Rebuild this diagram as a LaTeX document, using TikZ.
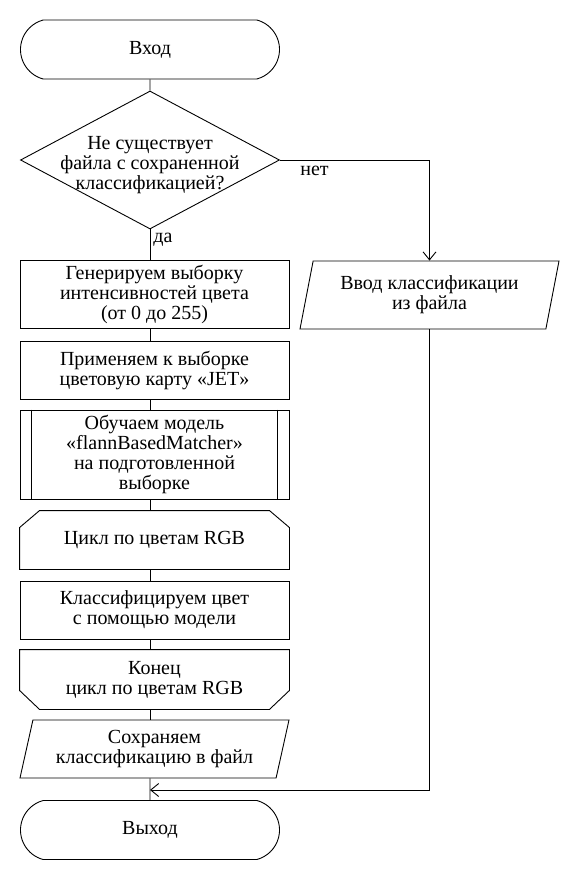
\documentclass[tikz,border=0pt]{standalone}
\usepackage{fontspec}
\setmainfont{Liberation Serif}
\usetikzlibrary{arrows.meta}
\usetikzlibrary{shapes.geometric,shapes.misc}

\begin{document}
\begin{tikzpicture}[x=1pt,y=-1pt,line width=0.9pt,
    >={Straight Barb[length=8pt,width=13pt]},
    font=\fontsize{20}{20}\selectfont,
    term/.style={draw,rounded rectangle,rounded rectangle arc length=150,
        minimum width=259pt,minimum height=59pt,inner sep=0pt},
    block/.style={draw,rectangle,align=center,minimum width=269pt,inner sep=0pt},
    io/.style={draw,trapezium,trapezium left angle=71,trapezium right angle=109,
        trapezium stretches body,align=center,inner sep=0pt},
    loopbox/.style={rectangle,align=center,minimum width=269pt,inner sep=0pt}]
    \useasboundingbox (0,0) rectangle (580,880);
    \node[term] (start) at (150,49.5) {Вход};
    \node[draw,diamond,minimum width=259pt,minimum height=138pt,inner sep=0pt,
        label={[align=center,yshift=-5pt]center:Не существует\\файла с сохраненной\\классификацией?}]
        (dec) at (150,160) {};
    \node[io,minimum width=259pt,minimum height=68pt] (in1) at (429.5,295)
        {Ввод классификации\\из файла};
    \node[block,minimum height=68pt] (p1) at (154.5,294)
        {Генерируем выборку\\интенсивностей цвета\\(от 0 до 255)};
    \node[block,minimum height=58pt] (p2) at (154.5,370)
        {Применяем к выборке\\цветовую карту «JET»};
    \node[block,minimum height=89pt] (p3) at (154.5,454.5)
        {Обучаем модель\\«flannBasedMatcher»\\на подготовленной\\выборке};
    \draw ([xshift=12pt]p3.north west) -- ([xshift=12pt]p3.south west);
    \draw ([xshift=-12pt]p3.north east) -- ([xshift=-12pt]p3.south east);
    \node[loopbox,minimum height=58pt] (loop1) at (154.5,540) {Цикл по цветам RGB};
    \draw (loop1.south west) -- ([yshift=-17pt]loop1.north west)
        -- ([xshift=20pt]loop1.north west) -- ([xshift=-20pt]loop1.north east)
        -- ([yshift=-17pt]loop1.north east) -- (loop1.south east) -- cycle;
    \node[block,minimum height=58pt] (p4) at (154.5,610)
        {Классифицируем цвет\\с помощью модели};
    \node[loopbox,minimum height=59pt] (loop2) at (154.5,679.5)
        {Конец\\цикл по цветам RGB};
    \draw (loop2.north west) -- ([yshift=19pt]loop2.south west)
        -- ([xshift=20pt]loop2.south west) -- ([xshift=-20pt]loop2.south east)
        -- ([yshift=19pt]loop2.south east) -- (loop2.north east) -- cycle;
    \node[io,minimum width=269pt,minimum height=58pt] (out1) at (154.5,749)
        {Сохраняем\\классификацию в файл};
    \node[term] (stop) at (150,830) {Выход};
    \coordinate (merge) at (150,790);

    \draw (start) -- (dec);
    \draw (dec.south) node[below right,inner sep=3pt] (yes) {да} -- (dec.south |- p1.north);
    \draw[->] (dec.east) node[below right,xshift=17pt,yshift=-3pt,inner sep=3pt] (no) {нет}
        -| (in1.north);
    \foreach \a/\b in {p1/p2,p2/p3,p3/loop1,loop1/p4,p4/loop2,loop2/out1}
        \draw (\a.south -| dec) -- (\b.north -| dec);
    \draw (out1.south -| dec) -- (stop);
    \draw[->] (in1.south) |- (merge);
\end{tikzpicture}
\end{document}
